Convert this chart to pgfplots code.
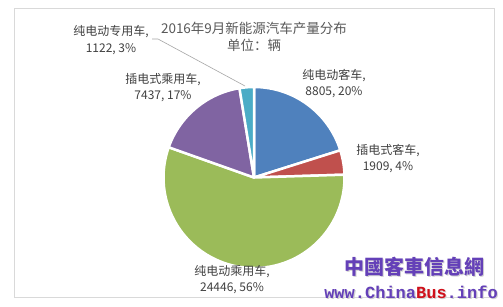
\documentclass[border=0pt]{standalone}
\usepackage{pgfplots}
\usepackage{pgfplotstable}
\pgfplotsset{compat=1.18}
\usepackage{fontspec}
\setmainfont{Noto Sans CJK SC}
\newfontfamily\cjktc{Noto Sans CJK TC}
\newfontfamily\wmmono{Liberation Mono}
\definecolor{pblue}{HTML}{4F81BD}
\definecolor{pred}{HTML}{C0504D}
\definecolor{pgreen}{HTML}{9BBB59}
\definecolor{ppurple}{HTML}{8064A2}
\definecolor{pteal}{HTML}{4BACC6}
\definecolor{lbl}{HTML}{404040}
\definecolor{ttl}{HTML}{595959}
\definecolor{frame}{HTML}{D9D9D9}
\definecolor{wmpurple}{HTML}{6440B8}
\definecolor{wmred}{HTML}{D0101A}
\pgfplotstableread{
value color
8805 pblue
1909 pred
24446 pgreen
7437 ppurple
1122 pteal
}\piedata
\begin{document}
\begin{tikzpicture}
\begin{axis}[hide axis, scale only axis, x=1bp, y=1bp,
  xmin=0, xmax=503, ymin=0, ymax=306, clip=false]
\fill[white] (axis cs:0,0) rectangle (axis cs:503,306);
\draw[frame, line width=1bp] (axis cs:14,9) rectangle (axis cs:494,297);
% total
\pgfplotstablegetrowsof{\piedata}
\pgfmathtruncatemacro\N{\pgfplotsretval-1}
\gdef\total{0}
\foreach \i in {0,...,\N}{
  \pgfplotstablegetelem{\i}{value}\of\piedata
  \xdef\total{\fpeval{\total+\pgfplotsretval}}
}
\gdef\cum{0}
\foreach \i in {0,...,\N}{
  \pgfplotstablegetelem{\i}{value}\of\piedata \let\v\pgfplotsretval
  \pgfplotstablegetelem{\i}{color}\of\piedata \let\col\pgfplotsretval
  \edef\temp{\noexpand\fill[\col, draw=white, line width=2.5bp, line join=round]
    (axis cs:254,128.5) -- ++(\fpeval{90-\cum*360/\total}:90.5bp)
    arc[start angle=\fpeval{90-\cum*360/\total}, end angle=\fpeval{90-(\cum+\v)*360/\total}, radius=90.5bp] -- cycle;}
  \temp
  \xdef\cum{\fpeval{\cum+\v}}
}
% leader line
\draw[gray!70, line width=0.6bp] (axis cs:152,267) -- (axis cs:158,267) -- (axis cs:245,220);
% labels
\tikzset{lb/.style={align=center, text=lbl, inner sep=0pt, font=\fontsize{12bp}{16.5bp}\selectfont}}
\node[lb] at (axis cs:334,222.5) {纯电动客车,\\8805, 20\%};
\node[lb] at (axis cs:388,147.5) {插电式客车,\\1909, 4\%};
\node[lb] at (axis cs:232,26.5) {纯电动乘用车,\\24446, 56\%};
\node[lb] at (axis cs:163,218.5) {插电式乘用车,\\7437, 17\%};
\node[lb] at (axis cs:111,266) {纯电动专用车,\\1122, 3\%};
\node[align=center, text=ttl, inner sep=0pt, font=\fontsize{13.5bp}{17bp}\selectfont] at (axis cs:254,269.5) {2016年9月新能源汽车产量分布\\单位：辆};
% watermark
\node[text=gray!35, inner sep=0pt, font=\cjktc\bfseries\fontsize{20bp}{22bp}\selectfont] at (axis cs:415.2,37.8) {中國客車信息網};
\node[text=wmpurple, inner sep=0pt, font=\cjktc\bfseries\fontsize{20bp}{22bp}\selectfont] at (axis cs:414,39) {中國客車信息網};
\node[text=gray!35, inner sep=0pt, font=\wmmono\bfseries\fontsize{17bp}{19bp}\selectfont] at (axis cs:412.2,12.8) {www.ChinaBus.info};
\node[text=wmpurple, inner sep=0pt, font=\wmmono\bfseries\fontsize{17bp}{19bp}\selectfont] at (axis cs:411,14) {www.China\textcolor{wmred}{Bus}.info};
\end{axis}
\end{tikzpicture}
\end{document}
